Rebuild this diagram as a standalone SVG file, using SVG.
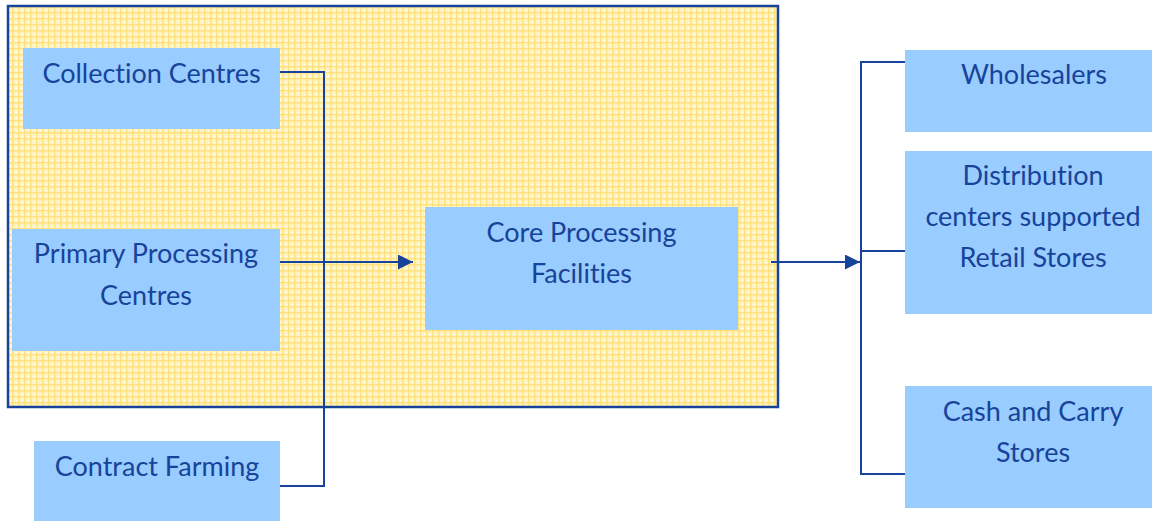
<svg xmlns="http://www.w3.org/2000/svg" width="1152" height="521" viewBox="0 0 1152 521">
<defs>
<pattern id="grid" width="6" height="6" patternUnits="userSpaceOnUse">
<rect width="6" height="6" fill="#fff4c2"/>
<rect x="0" y="0" width="6" height="1.5" fill="#ffdd6e" opacity="0.75"/>
<rect x="0" y="0" width="1.5" height="6" fill="#ffdd6e" opacity="0.75"/>
<rect x="4" y="4" width="1" height="1" fill="#ffffff"/>
</pattern>
<marker id="arr" viewBox="0 0 10 10" refX="10" refY="5" markerWidth="15" markerHeight="15" markerUnits="userSpaceOnUse" orient="auto">
<path d="M0,0 L10,5 L0,10 Z" fill="#17439a"/>
</marker>
<style>
.box{fill:#99ccff;}
.t{font-family:"Lato","Open Sans",sans-serif;font-size:27px;fill:#17439a;text-anchor:middle;font-variant-ligatures:none;}
.c{fill:none;stroke:#17439a;stroke-width:2;}
</style>
</defs>
<rect id="container" x="8" y="6" width="770" height="401" fill="url(#grid)" stroke="#17439a" stroke-width="2.5"/>
<g id="connectors">
<polyline class="c" points="280,72 324,72 324,486 280,486"/>
<line class="c" x1="280" y1="262" x2="413" y2="262" marker-end="url(#arr)"/>
<line class="c" x1="771" y1="262" x2="860" y2="262" marker-end="url(#arr)"/>
<polyline class="c" points="905,62 861,62 861,474 905,474"/>
<line class="c" x1="861" y1="251" x2="905" y2="251"/>
</g>
<g id="collection">
<rect class="box" x="23" y="48" width="257" height="81"/>
<text class="t" x="151.5" y="83">Collection Centres</text>
</g>
<g id="primary">
<rect class="box" x="12" y="229" width="268" height="122"/>
<text class="t" x="146" y="263">Primary Processing</text>
<text class="t" x="146" y="305">Centres</text>
</g>
<g id="core">
<rect class="box" x="425" y="207" width="313" height="123"/>
<text class="t" x="581.5" y="242">Core Processing</text>
<text class="t" x="581.5" y="283">Facilities</text>
</g>
<g id="contract">
<rect class="box" x="34" y="441" width="246" height="80"/>
<text class="t" x="157" y="476">Contract Farming</text>
</g>
<g id="wholesalers">
<rect class="box" x="905" y="50" width="247" height="82"/>
<text class="t" x="1034" y="84">Wholesalers</text>
</g>
<g id="distribution">
<rect class="box" x="905" y="151" width="247" height="163"/>
<text class="t" x="1033" y="185">Distribution</text>
<text class="t" x="1033" y="226">centers supported</text>
<text class="t" x="1033" y="267">Retail Stores</text>
</g>
<g id="cashcarry">
<rect class="box" x="905" y="386" width="247" height="122"/>
<text class="t" x="1033" y="421">Cash and Carry</text>
<text class="t" x="1033" y="462">Stores</text>
</g>
</svg>
